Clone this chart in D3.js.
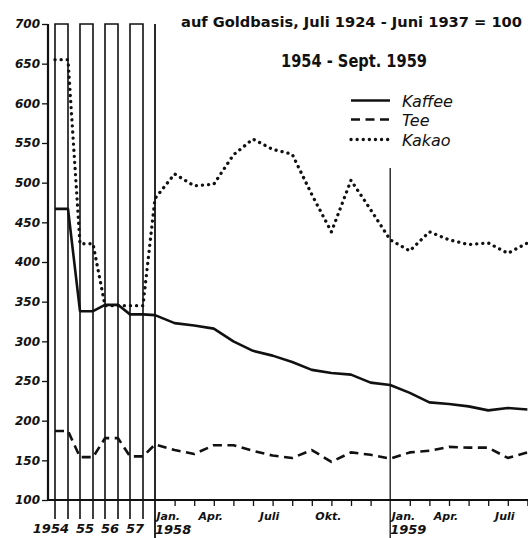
<!DOCTYPE html>
<html><head><meta charset="utf-8">
<script src="https://cdn.jsdelivr.net/npm/d3@7"></script>
<style>
html,body{margin:0;padding:0;background:#fff;}
svg{display:block;}
text{fill:#111;}
</style></head>
<body>
<svg id="c" width="528" height="538"></svg>
<script>
// ---- data ----
const years = ["1954", "55", "56", "57"];
const kaffeeYear = [467, 338, 346, 334];
const teeYear = [187, 154, 178, 155];
const kakaoYear = [655, 423, 345, 345];

const months = ["Jan.58","Feb.58","Mär.58","Apr.58","Mai58","Juni58","Juli58","Aug.58","Sept.58","Okt.58","Nov.58","Dez.58",
                "Jan.59","Feb.59","Mär.59","Apr.59","Mai59","Juni59","Juli59","Aug.59"];
const kaffeeMonth = [333,323,320,316,300,288,282,274,264,260,258,248,245,235,223,221,218,213,216,214];
const teeMonth    = [170,163,158,169,169,162,156,153,163,148,160,157,152,160,162,167,166,166,153,160];
const kakaoMonth  = [480,511,496,498,535,555,542,536,485,438,503,466,428,414,438,428,422,424,411,424];

const yTicks = [100,150,200,250,300,350,400,450,500,550,600,650,700];
const monthLabels = [
  {i:0, t:"Jan.", sub:"1958", anchor:"start"},
  {i:3, t:"Apr.", anchor:"middle"},
  {i:6, t:"Juli", anchor:"middle"},
  {i:9, t:"Okt.", anchor:"middle"},
  {i:12, t:"Jan.", sub:"1959", anchor:"start"},
  {i:15, t:"Apr.", anchor:"middle"},
  {i:18, t:"Juli", anchor:"middle"}
];
const title1 = "auf Goldbasis, Juli 1924 - Juni 1937 = 100";
const title2 = "1954 - Sept. 1959";
const legendItems = ["Kaffee", "Tee", "Kakao"];

// ---- scales ----
const svg = d3.select("#c");
const y = d3.scaleLinear().domain([100, 700]).range([500, 24]);
const xYear = d3.scaleBand().domain(years).range([55, 155]).paddingInner(0.48).paddingOuter(0.24).align(0);
const xMonth = d3.scaleLinear().domain([0, 19]).range([155, 527.4]);

const ink = "#111";
const font = "'DejaVu Sans', sans-serif";

// ---- year boxes ----
const gBox = svg.append("g");
years.forEach(yr => {
  const x0 = xYear(yr), x1 = x0 + xYear.bandwidth();
  gBox.append("path")
    .attr("d", `M${x0},519 V${y(700)} H${x1} V519`)
    .attr("fill", "none").attr("stroke", ink).attr("stroke-width", 1.6);
});
// Jan 1958 and Jan 1959 verticals
gBox.append("line").attr("x1", xMonth(0)).attr("x2", xMonth(0)).attr("y1", y(700)).attr("y2", 538)
  .attr("stroke", ink).attr("stroke-width", 1.8);
gBox.append("line").attr("x1", xMonth(12)).attr("x2", xMonth(12)).attr("y1", 168).attr("y2", 538)
  .attr("stroke", ink).attr("stroke-width", 1.3);

// ---- axes ----
const yAxis = d3.axisLeft(y).tickValues(yTicks).tickSize(6).tickPadding(2);
const gy = svg.append("g").attr("transform", "translate(48,0)").call(yAxis);
gy.select(".domain").remove();
gy.selectAll(".tick line").attr("stroke", ink).attr("stroke-width", 1.3);
gy.selectAll(".tick text").attr("font-family", font).attr("font-style", "italic")
  .attr("font-weight", "bold").attr("font-size", 12).attr("fill", ink);
svg.append("line").attr("x1", 48).attr("x2", 48).attr("y1", y(700)).attr("y2", 500)
  .attr("stroke", ink).attr("stroke-width", 2.2);
svg.append("line").attr("x1", 47).attr("x2", 528).attr("y1", 500).attr("y2", 500)
  .attr("stroke", ink).attr("stroke-width", 2.2);

// month ticks
const xAxis = d3.axisBottom(xMonth).tickValues(d3.range(1, 20).filter(i => i !== 12)).tickSize(6).tickFormat("");
const gx = svg.append("g").attr("transform", "translate(0,500)").call(xAxis);
gx.select(".domain").remove();
gx.selectAll(".tick line").attr("stroke", ink).attr("stroke-width", 1.3);

// month labels
monthLabels.forEach(m => {
  const x = xMonth(m.i) + (m.anchor === "start" ? 1.5 : -3);
  svg.append("text").attr("x", x).attr("y", 520).attr("text-anchor", m.anchor)
    .attr("font-family", font).attr("font-style", "italic").attr("font-weight", "bold")
    .attr("font-size", 11).text(m.t);
  if (m.sub) svg.append("text").attr("x", xMonth(m.i)).attr("y", 534)
    .attr("font-family", font).attr("font-style", "italic").attr("font-weight", "bold")
    .attr("font-size", 13).text(m.sub);
});
// year labels
years.forEach(yr => {
  svg.append("text").attr("x", xYear(yr) + xYear.bandwidth() + 1).attr("y", 533)
    .attr("text-anchor", "end")
    .attr("font-family", font).attr("font-style", "italic").attr("font-weight", "bold")
    .attr("font-size", 13).text(yr);
});

// ---- series ----
function pts(yearVals, monthVals) {
  const p = [];
  years.forEach((yr, i) => {
    p.push([xYear(yr), y(yearVals[i])]);
    p.push([xYear(yr) + xYear.bandwidth(), y(yearVals[i])]);
  });
  monthVals.forEach((v, i) => p.push([xMonth(i), y(v)]));
  return p;
}
const line = d3.line();
const styles = {
  Kaffee: {w: 2.6, dash: null, cap: "butt"},
  Tee: {w: 2.6, dash: "9 5.5", cap: "butt"},
  Kakao: {w: 3.3, dash: "0.1 6", cap: "round"}
};
const series = [
  {name: "Kaffee", p: pts(kaffeeYear, kaffeeMonth)},
  {name: "Tee", p: pts(teeYear, teeMonth)},
  {name: "Kakao", p: pts(kakaoYear, kakaoMonth)}
];
series.forEach(s => {
  const st = styles[s.name];
  svg.append("path").attr("d", line(s.p)).attr("fill", "none").attr("stroke", ink)
    .attr("stroke-width", st.w).attr("stroke-dasharray", st.dash).attr("stroke-linecap", st.cap)
    .attr("stroke-linejoin", "round");
});

// ---- titles ----
svg.append("text").attr("x", 181).attr("y", 27).attr("font-family", font).attr("font-weight", "bold")
  .attr("font-size", 14.2).attr("textLength", 341).attr("lengthAdjust", "spacingAndGlyphs").text(title1);
svg.append("text").attr("x", 281).attr("y", 67).attr("font-family", font).attr("font-weight", "bold")
  .attr("font-size", 17).attr("textLength", 146).attr("lengthAdjust", "spacingAndGlyphs").text(title2);

// ---- legend ----
const legY = [100.5, 119.5, 139.5];
legendItems.forEach((name, i) => {
  const st = styles[name];
  svg.append("line").attr("x1", 351).attr("x2", 390).attr("y1", legY[i]).attr("y2", legY[i])
    .attr("stroke", ink).attr("stroke-width", st.w).attr("stroke-dasharray", st.dash).attr("stroke-linecap", st.cap);
  svg.append("text").attr("x", 402).attr("y", legY[i] + 6).attr("font-family", font)
    .attr("font-style", "italic").attr("font-size", 16).text(name);
});
</script>
</body></html>
